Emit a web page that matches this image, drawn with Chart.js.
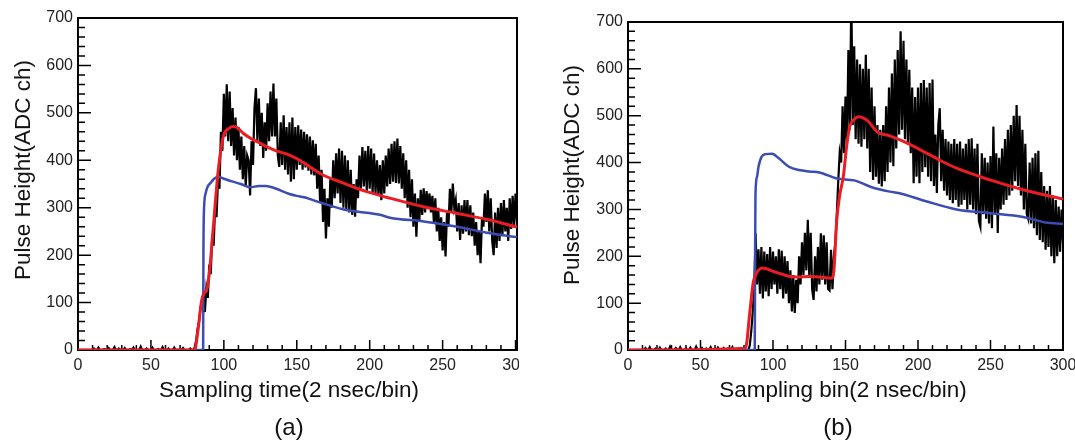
<!DOCTYPE html>
<html>
<head>
<meta charset="utf-8">
<script src="https://cdn.jsdelivr.net/npm/chart.js@4.4.1/dist/chart.umd.min.js"></script>
<style>
  body { margin: 0; width: 1075px; height: 441px; overflow: hidden; background: #fff; position: relative; font-family: "Liberation Sans", Arial, sans-serif; color: #111; }
  .wrap { position: absolute; top: 0; height: 441px; overflow: hidden; }
  .lbl { position: absolute; white-space: nowrap; transform: translate(-50%, -50%); }
  .ytitle { transform: translate(-50%, -50%) rotate(-90deg); }
</style>
</head>
<body>
<div class="wrap" style="left:0;width:519px;"><canvas id="chart-a" width="560" height="441"></canvas></div>
<div class="wrap" style="left:540px;width:560px;"><canvas id="chart-b" width="560" height="441"></canvas></div>
<div class="lbl ytitle" style="left:23px;top:170px;font-size:22.5px;">Pulse Height(ADC ch)</div>
<div class="lbl ytitle" style="left:572px;top:175px;font-size:22.5px;">Pulse Height(ADC ch)</div>
<div class="lbl" style="left:289px;top:390px;font-size:22.5px;">Sampling time(2 nsec/bin)</div>
<div class="lbl" style="left:843px;top:390px;font-size:22.5px;">Sampling bin(2 nsec/bin)</div>
<div class="lbl" style="left:289px;top:427px;font-size:24px;">(a)</div>
<div class="lbl" style="left:838px;top:427px;font-size:24px;">(b)</div>
<script>
// tick labels
const xTicks = [0, 50, 100, 150, 200, 250, 300];
const yTicks = [0, 100, 200, 300, 400, 500, 600, 700];

// (a) measured pulse, one value per bin (bin 0 .. 301)
const pulseA = [
  0, 0, 0, 0, 0, 0, 0, 0, 0, 0,
  0, 3, 0, 0, 5, 0, 0, 0, 2, 0,
  0, 4, 0, 0, 0, 6, 0, 0, 3, 0,
  0, 0, 4, 0, 0, 0, 2, 0, 5, 0,
  0, 0, 0, 7, 0, 0, 0, 3, 0, 0,
  0, 5, 0, 0, 0, 2, 0, 0, 6, 0,
  0, 0, 3, 0, 0, 0, 5, 0, 0, 0,
  0, 0, 4, 0, 0, 0, 0, 3, 0, 0,
  5, 20, 45, 60, 90, 100, 120, 80, 130, 110,
  180, 160, 240, 220, 300, 280, 360, 340, 460, 420,
  540, 450, 560, 440, 545, 430, 510, 410, 490, 400,
  470, 380, 450, 360, 430, 345, 410, 400, 326, 440,
  390, 510, 552, 440, 530, 430, 500, 405, 480, 420,
  520, 440, 545, 450, 562, 450, 530, 410, 386, 480,
  390, 495, 380, 470, 370, 480, 355, 490, 360, 470,
  380, 474, 390, 465, 380, 460, 385, 455, 378, 450,
  370, 442, 368, 435, 340, 410, 310, 380, 270, 340,
  235, 320, 260, 360, 300, 400, 320, 415, 330, 425,
  310, 420, 300, 410, 295, 400, 290, 380, 285, 350,
  281, 360, 320, 410, 340, 428, 345, 420, 335, 430,
  340, 425, 330, 414, 330, 400, 325, 390, 316, 400,
  330, 410, 345, 425, 350, 435, 355, 440, 352, 446,
  351, 430, 340, 415, 320, 400, 300, 380, 280, 360,
  260, 330, 239, 320, 270, 338, 285, 341, 290, 335,
  300, 330, 290, 325, 270, 320, 250, 300, 230, 280,
  210, 270, 197, 290, 260, 340, 290, 351, 300, 316,
  250, 310, 232, 305, 245, 316, 250, 316, 242, 305,
  240, 290, 220, 270, 200, 250, 183, 280, 260, 330,
  270, 337, 250, 320, 230, 200, 290, 215, 300, 230,
  310, 240, 316, 250, 300, 230, 320, 255, 325, 260, 330, 270
];

// (a) fit (red) and template (blue)
const fitAX = [0, 80, 82, 84.8, 86.5, 88.2, 90, 92.8, 96.2, 99.6, 103, 106.5, 109, 113.3, 118, 124.8, 135, 145, 152, 168, 182, 191, 199, 214, 237, 260, 282.5, 301];
const fitAY = [0, 0, 35, 105, 120, 126, 160, 260, 380, 450, 466, 471, 469, 457, 447, 436, 421, 411, 400, 369, 352, 341, 333, 320, 302, 288, 274, 259];
const refAX = [0, 85.8, 86, 86.3, 87.5, 89, 90.5, 93, 96.2, 100, 105, 111.6, 118, 124, 129, 135, 145, 150, 155, 168, 184, 191, 207, 214, 237, 260, 282.5, 301];
const refAY = [0, 0, 200, 288, 330, 345, 351, 360, 366, 361, 356, 350, 343, 346, 346, 341, 329, 325, 322, 309, 295, 292, 285, 279, 271, 260, 246, 238];

// (b) measured pulse, one value per bin (bin 0 .. 300)
const pulseB = [
  0, 0, 0, 0, 0, 0, 0, 0, 0, 0,
  0, 0, 4, 0, 0, 6, 0, 0, 0, 3,
  0, 0, 5, 0, 0, 0, 3, 0, 0, 7,
  0, 0, 0, 4, 0, 0, 6, 0, 0, 0,
  3, 0, 0, 5, 0, 0, 0, 7, 0, 0,
  0, 4, 0, 0, 3, 0, 0, 6, 0, 0,
  0, 0, 5, 0, 0, 0, 4, 0, 0, 3,
  0, 0, 6, 0, 0, 0, 0, 3, 0, 0,
  0, 0, 0, 0, 10, 40, 80, 130, 249, 140,
  215, 120, 220, 110, 210, 125, 205, 115, 220, 130,
  210, 140, 200, 120, 215, 130, 212, 110, 200, 120,
  190, 100, 170, 82, 160, 79, 150, 100, 200, 140,
  230, 160, 250, 170, 278, 160, 250, 130, 107, 200,
  125, 220, 140, 249, 150, 245, 140, 230, 130, 127,
  214, 130, 200, 230, 290, 360, 420, 400, 520, 420,
  541, 440, 640, 470, 760, 480, 648, 450, 620, 440,
  610, 434, 600, 450, 630, 430, 600, 380, 560, 363,
  520, 370, 480, 355, 470, 349, 480, 360, 520, 380,
  560, 400, 590, 392, 620, 430, 640, 460, 680, 470,
  660, 450, 620, 440, 598, 420, 560, 356, 540, 370,
  560, 356, 570, 380, 576, 390, 560, 370, 570, 360,
  577, 350, 460, 335, 480, 516, 360, 470, 340, 450,
  330, 445, 320, 440, 313, 450, 320, 440, 306, 445,
  310, 430, 320, 440, 300, 450, 310, 452, 300, 430,
  290, 440, 275, 263, 420, 290, 410, 280, 400, 270,
  414, 260, 477, 290, 420, 250, 410, 300, 430, 310,
  450, 320, 470, 330, 480, 340, 500, 360, 523, 350,
  500, 330, 470, 300, 440, 290, 280, 400, 270, 410,
  260, 420, 245, 425, 235, 380, 230, 350, 214, 340,
  220, 350, 200, 330, 185, 320, 200, 306, 210, 300, 230
];

// (b) fit (red) and template (blue)
const fitBX = [0, 81, 84, 86.3, 88, 90, 92.3, 95, 100, 105, 110, 116.4, 125, 132, 140.5, 142, 144, 146, 148.5, 151, 153, 156, 158.9, 165, 172, 180.6, 190, 203.6, 215, 226.6, 249.6, 272.5, 300];
const fitBY = [0, 4, 80, 143, 160, 170, 175, 174, 168, 163, 158, 156, 157, 156, 153, 170, 278, 330, 370, 440, 477, 492, 498, 490, 465, 457, 445, 424, 405, 388, 363, 342, 322];
const refBX = [0, 87.4, 87.6, 87.9, 89, 90, 92.3, 95, 99.4, 104, 111, 118, 125, 132, 144, 156, 167.6, 180.6, 186.5, 205, 226.6, 249.6, 272.5, 288, 300];
const refBY = [0, 0, 150, 330, 370, 391, 413, 418, 419, 409, 391, 384, 381, 379, 366, 362, 348, 338, 335, 318, 300, 292, 284, 272, 269];

const toPoints = (xs, ys) => xs.map((x, i) => ({ x: x, y: ys[i] }));
const binPoints = (vals) => vals.map((v, i) => ({ x: i, y: v }));

const tickFont = { family: "'Liberation Sans', Arial, sans-serif", size: 16 };

// ROOT-like frame with inward major/minor ticks
const frameTicks = {
  id: "frameTicks",
  beforeDatasetsDraw(chart) {
    const { ctx, chartArea: a, scales: { x, y } } = chart;
    ctx.save();
    ctx.strokeStyle = "#000";
    ctx.lineWidth = 1.5;
    ctx.beginPath();
    for (let v = 0; v <= y.max; v += 20) {
      const py = y.getPixelForValue(v);
      const len = v % 100 === 0 ? 13 : 7;
      ctx.moveTo(a.left, py);
      ctx.lineTo(a.left + len, py);
    }
    for (let v = 0; v <= x.max; v += 10) {
      const px = x.getPixelForValue(v);
      const len = v % 50 === 0 ? 10 : 5;
      ctx.moveTo(px, a.bottom);
      ctx.lineTo(px, a.bottom - len);
    }
    ctx.stroke();
    ctx.lineWidth = 2;
    ctx.strokeRect(a.left, a.top, a.right - a.left, a.bottom - a.top);
    ctx.restore();
  },
};

const makeChart = (id, pulse, fit, ref, xMax, padTop, yWidth) => {
  return new Chart(document.getElementById(id), {
    type: "line",
    data: {
      datasets: [
        { data: fit, borderColor: "#ec1c24", borderWidth: 3, cubicInterpolationMode: "monotone" },
        { data: ref, borderColor: "#3b4cb4", borderWidth: 2.5, cubicInterpolationMode: "monotone" },
        { data: pulse, borderColor: "#000", borderWidth: 2.2, tension: 0 },
      ],
    },
    options: {
      responsive: false,
      animation: false,
      devicePixelRatio: 1,
      layout: { padding: { top: padTop, right: 560 - yWidth - (xMax === 301 ? 439 : 435), left: 0, bottom: 0 } },
      elements: { point: { radius: 0 } },
      plugins: { legend: { display: false }, tooltip: { enabled: false } },
      scales: {
        x: {
          type: "linear",
          min: 0,
          max: xMax,
          grid: { display: false, drawTicks: false },
          border: { display: false },
          ticks: { font: tickFont, color: "#222", padding: 6, maxRotation: 0 },
          afterBuildTicks: (s) => { s.ticks = xTicks.map((v) => ({ value: v })); },
          afterFit: (s) => { s.height = 91; },
        },
        y: {
          min: 0,
          max: 700,
          grid: { display: false, drawTicks: false },
          border: { display: false },
          ticks: { font: tickFont, color: "#222", padding: 5 },
          afterBuildTicks: (s) => { s.ticks = yTicks.map((v) => ({ value: v })); },
          afterFit: (s) => { s.width = yWidth; },
        },
      },
    },
    plugins: [frameTicks],
  });
};

makeChart("chart-a", binPoints(pulseA), toPoints(fitAX, fitAY), toPoints(refAX, refAY), 301, 18, 78);
makeChart("chart-b", binPoints(pulseB), toPoints(fitBX, fitBY), toPoints(refBX, refBY), 300, 22, 88);
</script>
</body>
</html>
